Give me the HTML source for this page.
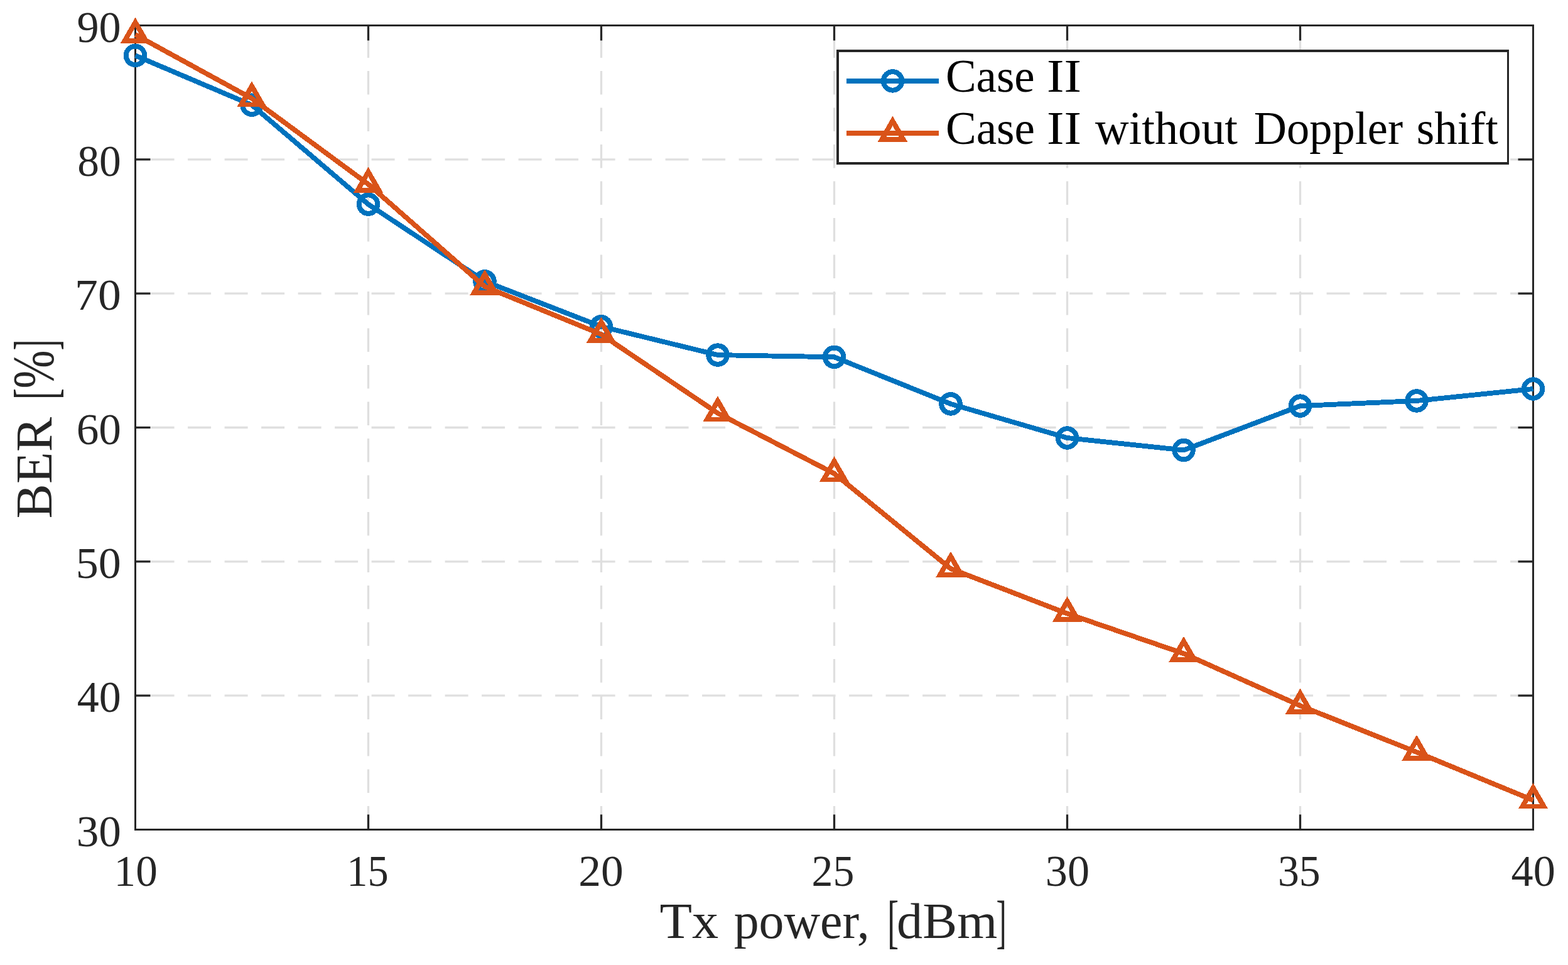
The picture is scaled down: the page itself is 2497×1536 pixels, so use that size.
<!DOCTYPE html>
<html><head><meta charset="utf-8"><title>BER vs Tx power</title>
<style>
html,body{margin:0;padding:0;background:#fff;overflow:hidden;}
svg{display:block;}
text{font-family:"Liberation Serif",serif;}
</style></head><body>
<svg width="2497" height="1536" viewBox="0 0 2497 1536">
<rect x="0" y="0" width="2497" height="1536" fill="#fff"/>
<g stroke="#dfdfdf" stroke-width="3.3" fill="none"><line x1="2441.5" y1="1107.17" x2="215.5" y2="1107.17" stroke-dasharray="37 21.5" stroke-dashoffset="0.6"/><line x1="2441.5" y1="893.83" x2="215.5" y2="893.83" stroke-dasharray="37 21.5" stroke-dashoffset="0.6"/><line x1="2441.5" y1="680.50" x2="215.5" y2="680.50" stroke-dasharray="37 21.5" stroke-dashoffset="0.6"/><line x1="2441.5" y1="467.17" x2="215.5" y2="467.17" stroke-dasharray="37 21.5" stroke-dashoffset="0.6"/><line x1="2441.5" y1="253.83" x2="215.5" y2="253.83" stroke-dasharray="37 21.5" stroke-dashoffset="0.6"/><line x1="586.50" y1="1320.5" x2="586.50" y2="40.5" stroke-dasharray="37.5 21"/><line x1="957.50" y1="1320.5" x2="957.50" y2="40.5" stroke-dasharray="37.5 21"/><line x1="1328.50" y1="1320.5" x2="1328.50" y2="40.5" stroke-dasharray="37.5 21"/><line x1="1699.50" y1="1320.5" x2="1699.50" y2="40.5" stroke-dasharray="37.5 21"/><line x1="2070.50" y1="1320.5" x2="2070.50" y2="40.5" stroke-dasharray="37.5 21"/></g>
<rect x="215.5" y="40.5" width="2226.0" height="1280.0" fill="none" stroke="#262626" stroke-width="3.0"/>
<g stroke="#262626" stroke-width="3.3" fill="none" stroke-linecap="butt"><line x1="586.50" y1="1320.5" x2="586.50" y2="1296.5"/><line x1="586.50" y1="40.5" x2="586.50" y2="64.5"/><line x1="957.50" y1="1320.5" x2="957.50" y2="1296.5"/><line x1="957.50" y1="40.5" x2="957.50" y2="64.5"/><line x1="1328.50" y1="1320.5" x2="1328.50" y2="1296.5"/><line x1="1328.50" y1="40.5" x2="1328.50" y2="64.5"/><line x1="1699.50" y1="1320.5" x2="1699.50" y2="1296.5"/><line x1="1699.50" y1="40.5" x2="1699.50" y2="64.5"/><line x1="2070.50" y1="1320.5" x2="2070.50" y2="1296.5"/><line x1="2070.50" y1="40.5" x2="2070.50" y2="64.5"/><line x1="215.5" y1="1107.17" x2="239.5" y2="1107.17"/><line x1="2441.5" y1="1107.17" x2="2417.5" y2="1107.17"/><line x1="215.5" y1="893.83" x2="239.5" y2="893.83"/><line x1="2441.5" y1="893.83" x2="2417.5" y2="893.83"/><line x1="215.5" y1="680.50" x2="239.5" y2="680.50"/><line x1="2441.5" y1="680.50" x2="2417.5" y2="680.50"/><line x1="215.5" y1="467.17" x2="239.5" y2="467.17"/><line x1="2441.5" y1="467.17" x2="2417.5" y2="467.17"/><line x1="215.5" y1="253.83" x2="239.5" y2="253.83"/><line x1="2441.5" y1="253.83" x2="2417.5" y2="253.83"/></g>
<g shape-rendering="crispEdges">
<polyline points="215.50,88.40 401.00,167.15 586.50,325.15 772.00,447.75 957.50,519.80 1143.00,565.05 1328.50,568.30 1514.00,642.90 1699.50,697.00 1885.00,716.50 2070.50,646.10 2256.00,637.95 2441.50,619.00" fill="none" stroke="#0072bd" stroke-width="7.9" stroke-linejoin="round"/>
<g fill="none" stroke="#0072bd" stroke-width="8.0"><circle cx="215.50" cy="88.40" r="14.75"/><circle cx="401.00" cy="167.15" r="14.75"/><circle cx="586.50" cy="325.15" r="14.75"/><circle cx="772.00" cy="447.75" r="14.75"/><circle cx="957.50" cy="519.80" r="14.75"/><circle cx="1143.00" cy="565.05" r="14.75"/><circle cx="1328.50" cy="568.30" r="14.75"/><circle cx="1514.00" cy="642.90" r="14.75"/><circle cx="1699.50" cy="697.00" r="14.75"/><circle cx="1885.00" cy="716.50" r="14.75"/><circle cx="2070.50" cy="646.10" r="14.75"/><circle cx="2256.00" cy="637.95" r="14.75"/><circle cx="2441.50" cy="619.00" r="14.75"/></g>
<polyline points="215.50,55.20 401.00,156.70 586.50,293.20 772.00,456.20 957.50,532.20 1143.00,657.70 1328.50,753.70 1514.00,905.20 1699.50,976.60 1885.00,1040.25 2070.50,1123.20 2256.00,1197.20 2441.50,1273.70" fill="none" stroke="#d95319" stroke-width="7.9" stroke-linejoin="round"/>
<g fill="none" stroke="#d95319" stroke-width="7.9" stroke-linejoin="miter"><polygon points="215.50,35.57 198.50,65.01 232.50,65.01"/><polygon points="401.00,137.07 384.00,166.51 418.00,166.51"/><polygon points="586.50,273.57 569.50,303.01 603.50,303.01"/><polygon points="772.00,436.57 755.00,466.01 789.00,466.01"/><polygon points="957.50,512.57 940.50,542.01 974.50,542.01"/><polygon points="1143.00,638.07 1126.00,667.51 1160.00,667.51"/><polygon points="1328.50,734.07 1311.50,763.51 1345.50,763.51"/><polygon points="1514.00,885.57 1497.00,915.01 1531.00,915.01"/><polygon points="1699.50,956.97 1682.50,986.41 1716.50,986.41"/><polygon points="1885.00,1020.62 1868.00,1050.06 1902.00,1050.06"/><polygon points="2070.50,1103.57 2053.50,1133.01 2087.50,1133.01"/><polygon points="2256.00,1177.57 2239.00,1207.01 2273.00,1207.01"/><polygon points="2441.50,1254.07 2424.50,1283.51 2458.50,1283.51"/></g></g>
<rect x="1332" y="79" width="1071" height="183" fill="#fff"/>
<g fill="#262626"><rect x="1332" y="79" width="1071" height="4"/><rect x="1332" y="258" width="1071" height="4"/><rect x="1332" y="79" width="4" height="183"/><rect x="2400" y="79" width="3" height="183"/></g>
<g shape-rendering="crispEdges">
<line x1="1348" y1="129" x2="1495" y2="129" stroke="#0072bd" stroke-width="7.8"/>
<circle cx="1421.6" cy="128.9" r="14.75" fill="none" stroke="#0072bd" stroke-width="8.0"/>
<line x1="1348" y1="212" x2="1495" y2="212" stroke="#d95319" stroke-width="7.7"/>
<polygon points="1421.50,192.47 1404.50,221.91 1438.50,221.91" fill="none" stroke="#d95319" stroke-width="7.9"/>
</g>
<g fill="#000" font-size="75.0">
<text x="1505.88" y="145.9" textLength="141.89" lengthAdjust="spacingAndGlyphs">Case</text>
<text x="1667.01" y="145.9" textLength="54.96" lengthAdjust="spacingAndGlyphs">II</text>
<text x="1505.88" y="229.0" textLength="142.10" lengthAdjust="spacingAndGlyphs">Case</text>
<text x="1667.01" y="229.0" textLength="55.07" lengthAdjust="spacingAndGlyphs">II</text>
<text x="1744.10" y="229.0" textLength="226.92" lengthAdjust="spacingAndGlyphs">without</text>
<text x="1996.83" y="229.0" textLength="237.17" lengthAdjust="spacingAndGlyphs">Doppler</text>
<text x="2255.67" y="229.0" textLength="130.10" lengthAdjust="spacingAndGlyphs">shift</text>
</g>
<g fill="#262626" font-size="70.2"><text x="181.57" y="1410.4" textLength="69.20" lengthAdjust="spacingAndGlyphs">10</text><text x="552.33" y="1410.4" textLength="66.32" lengthAdjust="spacingAndGlyphs">15</text><text x="921.28" y="1410.4" textLength="71.58" lengthAdjust="spacingAndGlyphs">20</text><text x="1292.55" y="1410.4" textLength="67.76" lengthAdjust="spacingAndGlyphs">25</text><text x="1664.79" y="1410.4" textLength="70.22" lengthAdjust="spacingAndGlyphs">30</text><text x="2035.02" y="1410.4" textLength="67.69" lengthAdjust="spacingAndGlyphs">35</text><text x="2406.60" y="1410.4" textLength="70.21" lengthAdjust="spacingAndGlyphs">40</text><text x="121.74" y="1346.70" textLength="71.21" lengthAdjust="spacingAndGlyphs">30</text><text x="122.70" y="1133.37" textLength="69.89" lengthAdjust="spacingAndGlyphs">40</text><text x="120.68" y="920.03" textLength="72.00" lengthAdjust="spacingAndGlyphs">50</text><text x="121.69" y="706.70" textLength="71.26" lengthAdjust="spacingAndGlyphs">60</text><text x="119.11" y="493.37" textLength="73.63" lengthAdjust="spacingAndGlyphs">70</text><text x="123.22" y="280.03" textLength="69.46" lengthAdjust="spacingAndGlyphs">80</text><text x="122.49" y="66.70" textLength="70.22" lengthAdjust="spacingAndGlyphs">90</text></g>
<g fill="#262626">
<text x="1050.41" y="1493.0" font-size="80" textLength="93.70" lengthAdjust="spacingAndGlyphs">Tx</text>
<text x="1168.70" y="1493.0" font-size="80" textLength="216.10" lengthAdjust="spacingAndGlyphs">power,</text>
<text x="1412.91" y="1499.4" font-size="93.3" textLength="18.17" lengthAdjust="spacingAndGlyphs">[</text>
<text x="1428.02" y="1493.0" font-size="80" textLength="160.21" lengthAdjust="spacingAndGlyphs">dBm</text>
<text x="1586.39" y="1499.4" font-size="93.3" textLength="16.28" lengthAdjust="spacingAndGlyphs">]</text>
</g>
<g fill="#262626" transform="translate(81.9,822.9) rotate(-90)">
<text x="-2.49" y="0" font-size="82.5" textLength="161.48" lengthAdjust="spacingAndGlyphs">BER</text>
<text x="186.84" y="6.3" font-size="94.7" textLength="18.01" lengthAdjust="spacingAndGlyphs">[</text>
<text x="204.65" y="2.5" font-size="93.2" textLength="60.65" lengthAdjust="spacingAndGlyphs">%</text>
<text x="265.28" y="6.3" font-size="94.7" textLength="17.32" lengthAdjust="spacingAndGlyphs">]</text>
</g>
</svg></body></html>
